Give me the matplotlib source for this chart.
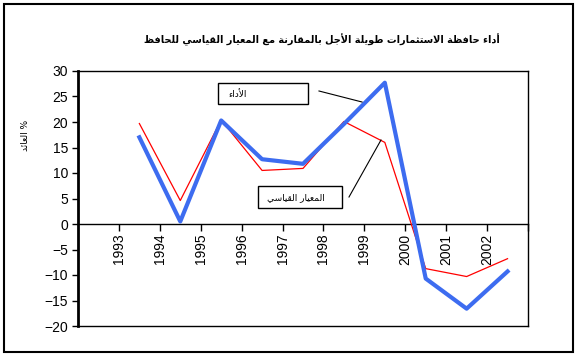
import numpy as np
import matplotlib
matplotlib.use("Agg")
import matplotlib.pyplot as plt
from matplotlib.patches import Rectangle
from matplotlib.lines import Line2D

# data
years = [1993, 1994, 1995, 1996, 1997, 1998, 1999, 2000, 2001, 2002]
performance = [17.0, 0.5, 20.3, 12.7, 11.8, 19.6, 27.7, -10.7, -16.6, -9.3]
benchmark = [19.7, 4.6, 20.4, 10.5, 10.9, 20.1, 16.0, -8.75, -10.3, -6.8]

title_ar = "أداء حافظة الاستثمارات طويلة الأجل بالمقارنة مع المعيار القياسي للحافظ"
perf_label = "الأداء"
bench_label = "المعيار القياسي"
ylabel_ar = "العائد"

# matplotlib does no Arabic shaping, so pick presentation forms by hand
_letters = [
    ("ء", 0xFE80, 1), ("آ", 0xFE81, 2), ("أ", 0xFE83, 2), ("ؤ", 0xFE85, 2),
    ("إ", 0xFE87, 2), ("ئ", 0xFE89, 4), ("ا", 0xFE8D, 2), ("ب", 0xFE8F, 4),
    ("ة", 0xFE93, 2), ("ت", 0xFE95, 4), ("ث", 0xFE99, 4), ("ج", 0xFE9D, 4),
    ("ح", 0xFEA1, 4), ("خ", 0xFEA5, 4), ("د", 0xFEA9, 2), ("ذ", 0xFEAB, 2),
    ("ر", 0xFEAD, 2), ("ز", 0xFEAF, 2), ("س", 0xFEB1, 4), ("ش", 0xFEB5, 4),
    ("ص", 0xFEB9, 4), ("ض", 0xFEBD, 4), ("ط", 0xFEC1, 4), ("ظ", 0xFEC5, 4),
    ("ع", 0xFEC9, 4), ("غ", 0xFECD, 4), ("ف", 0xFED1, 4), ("ق", 0xFED5, 4),
    ("ك", 0xFED9, 4), ("ل", 0xFEDD, 4), ("م", 0xFEE1, 4), ("ن", 0xFEE5, 4),
    ("ه", 0xFEE9, 4), ("و", 0xFEED, 2), ("ى", 0xFEEF, 2), ("ي", 0xFEF1, 4),
]
FORMS = {c: tuple(b + i for i in range(n)) for c, b, n in _letters}
LAMALEF = {"آ": (0xFEF5, 0xFEF6), "أ": (0xFEF7, 0xFEF8),
           "إ": (0xFEF9, 0xFEFA), "ا": (0xFEFB, 0xFEFC)}


def shape(text):
    units = []
    i = 0
    while i < len(text):
        c = text[i]
        if c == "ل" and i + 1 < len(text) and text[i + 1] in LAMALEF:
            units.append(("LA", text[i + 1]))
            i += 2
        else:
            units.append(("C", c))
            i += 1
    out = []
    for k, (kind, c) in enumerate(units):
        prev = units[k - 1] if k > 0 else None
        nxt = units[k + 1] if k + 1 < len(units) else None
        prev_joins = (prev is not None and prev[0] == "C"
                      and len(FORMS.get(prev[1], ())) == 4)
        if kind == "LA":
            iso, fin = LAMALEF[c]
            out.append(chr(fin if prev_joins else iso))
            continue
        if c not in FORMS:
            out.append(c)
            continue
        f = FORMS[c]
        next_joins = (len(f) == 4 and nxt is not None
                      and (nxt[0] == "LA" or len(FORMS.get(nxt[1], ())) > 1))
        if prev_joins and len(f) > 1 and next_joins:
            g = f[3]
        elif prev_joins and len(f) > 1:
            g = f[1]
        elif next_joins:
            g = f[2]
        else:
            g = f[0]
        out.append(chr(g))
    return "".join(reversed(out))


W, H = 578, 358


def px(x, y):
    return x / W, 1 - y / H


plt.rcParams["font.family"] = ["Liberation Sans", "DejaVu Sans"]
fig = plt.figure(figsize=(W / 100, H / 100), dpi=100)
ax = fig.add_axes([78 / W, 1 - 326 / H, (528 - 78) / W, (326 - 71) / H])

x = np.arange(len(years)) + 1.5
ax.plot(x, benchmark, color="#ff0000", lw=0.9, zorder=3)
ax.plot(x, performance, color="#3d6cf0", lw=3.0, zorder=4)

ax.set_xlim(0, len(years) + 1)
ax.set_ylim(-20, 30)
ax.set_yticks(np.arange(-20, 31, 5))
ax.tick_params(axis="y", direction="out", length=4, width=1, labelsize=10, pad=3)
ax.set_xticks([])
for s in ax.spines.values():
    s.set_linewidth(1.0)
ax.spines["left"].set_linewidth(2.0)

# category axis crossing at zero
sec = ax.secondary_xaxis(0.4)
sec.set_xticks(np.arange(1, len(years) + 2))
sec.set_xticklabels([str(y) for y in years] + [""], rotation=90, fontsize=10)
sec.tick_params(direction="out", length=5, width=1, pad=2)
sec.spines["bottom"].set_linewidth(1.0)

fig.text(*px(322, 40), shape(title_ar), ha="center", va="center",
         fontsize=7, fontweight="bold", family=["DejaVu Sans"])
fig.text(*px(26, 135), shape(ylabel_ar) + " %", rotation=90, ha="center",
         va="center", fontsize=6.5, family=["DejaVu Sans"])

# label boxes with leader lines
fig.add_artist(Rectangle(px(218, 104), 90 / W, 21 / H, transform=fig.transFigure,
                         fill=False, ec="black", lw=1))
fig.text(*px(238, 94), shape(perf_label), ha="center", va="center",
         fontsize=6.5, family=["DejaVu Sans"])
fig.add_artist(Line2D([319 / W, 362 / W], [1 - 91 / H, 1 - 102 / H],
                      transform=fig.transFigure, color="black", lw=0.8))

fig.add_artist(Rectangle(px(258, 208), 84 / W, 22 / H, transform=fig.transFigure,
                         fill=False, ec="black", lw=1))
fig.text(*px(296, 198), shape(bench_label), ha="center", va="center",
         fontsize=6.5, family=["DejaVu Sans"])
fig.add_artist(Line2D([349 / W, 381 / W], [1 - 197 / H, 1 - 140 / H],
                      transform=fig.transFigure, color="black", lw=0.8))

# outer chart border
fig.add_artist(Rectangle(px(4, 352), 569 / W, 348 / H, transform=fig.transFigure,
                         fill=False, ec="black", lw=1.5))

fig.savefig("out.png", dpi=100)
